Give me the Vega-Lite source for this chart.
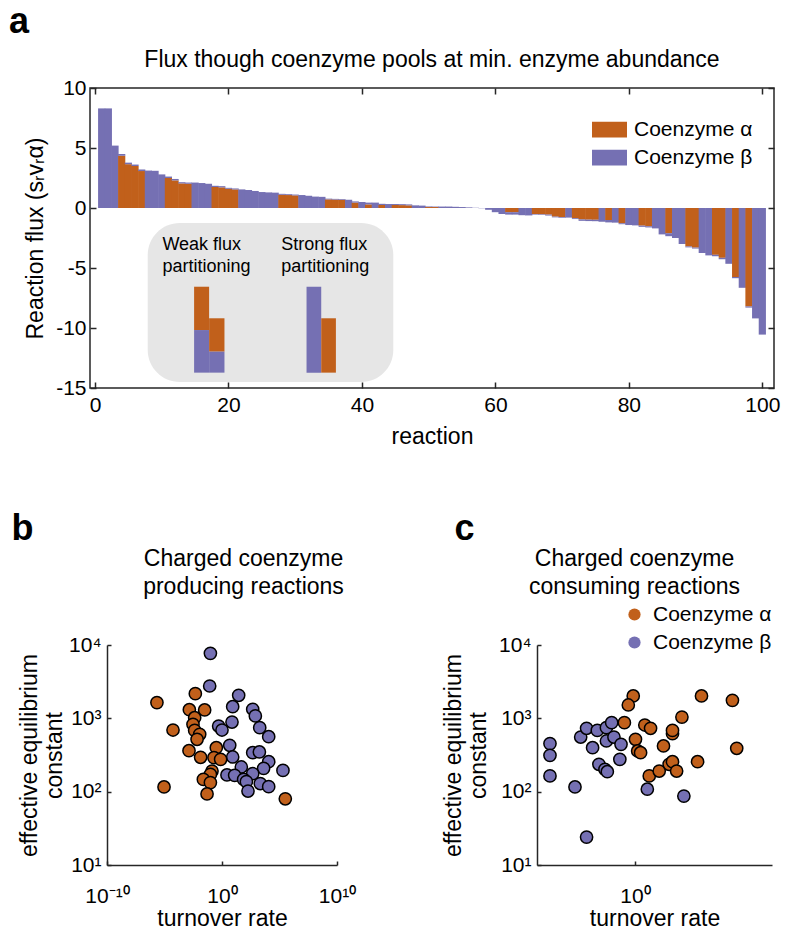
{
  "$schema": "https://vega.github.io/schema/vega-lite/v6.json",
  "padding": {"left": 8, "top": 4, "right": 0, "bottom": 0},
  "config": {
    "font": "Liberation Sans",
    "view": {"stroke": null},
    "axis": {"labelFont": "Liberation Sans", "titleFont": "Liberation Sans", "labelColor": "#000", "titleColor": "#000", "domainColor": "#262626", "tickColor": "#262626", "labelFontSize": 21, "titleFontSize": 23, "titleFontWeight": "normal", "grid": false, "domainWidth": 1.5, "tickWidth": 1.5, "labelFlush": false},
    "legend": {"labelFont": "Liberation Sans", "labelFontSize": 21, "labelColor": "#000"},
    "title": {"font": "Liberation Sans", "color": "#000", "fontWeight": "normal"}
  },
  "datasets": {
    "bars": [
      {"reaction":1,"coenzyme":"Coenzyme β","flux":8.3},
      {"reaction":2,"coenzyme":"Coenzyme β","flux":8.3},
      {"reaction":3,"coenzyme":"Coenzyme β","flux":5.2},
      {"reaction":4,"coenzyme":"Coenzyme α","flux":4.35},{"reaction":4,"coenzyme":"Coenzyme β","flux":0.15},
      {"reaction":5,"coenzyme":"Coenzyme α","flux":3.65},{"reaction":5,"coenzyme":"Coenzyme β","flux":0.13},
      {"reaction":6,"coenzyme":"Coenzyme α","flux":3.5},{"reaction":6,"coenzyme":"Coenzyme β","flux":0.12},
      {"reaction":7,"coenzyme":"Coenzyme α","flux":3.08},{"reaction":7,"coenzyme":"Coenzyme β","flux":0.13},
      {"reaction":8,"coenzyme":"Coenzyme β","flux":3.12},
      {"reaction":9,"coenzyme":"Coenzyme β","flux":3.1},
      {"reaction":10,"coenzyme":"Coenzyme β","flux":2.8},
      {"reaction":11,"coenzyme":"Coenzyme α","flux":2.5},{"reaction":11,"coenzyme":"Coenzyme β","flux":0.12},
      {"reaction":12,"coenzyme":"Coenzyme α","flux":2.3},{"reaction":12,"coenzyme":"Coenzyme β","flux":0.12},
      {"reaction":13,"coenzyme":"Coenzyme α","flux":2.05},{"reaction":13,"coenzyme":"Coenzyme β","flux":0.1},
      {"reaction":14,"coenzyme":"Coenzyme α","flux":2.02},{"reaction":14,"coenzyme":"Coenzyme β","flux":0.1},
      {"reaction":15,"coenzyme":"Coenzyme β","flux":2.12},
      {"reaction":16,"coenzyme":"Coenzyme β","flux":2.08},
      {"reaction":17,"coenzyme":"Coenzyme β","flux":2.02},
      {"reaction":18,"coenzyme":"Coenzyme α","flux":1.75},{"reaction":18,"coenzyme":"Coenzyme β","flux":0.1},
      {"reaction":19,"coenzyme":"Coenzyme α","flux":1.72},{"reaction":19,"coenzyme":"Coenzyme β","flux":0.1},
      {"reaction":20,"coenzyme":"Coenzyme α","flux":1.6},{"reaction":20,"coenzyme":"Coenzyme β","flux":0.08},
      {"reaction":21,"coenzyme":"Coenzyme α","flux":1.55},{"reaction":21,"coenzyme":"Coenzyme β","flux":0.08},
      {"reaction":22,"coenzyme":"Coenzyme β","flux":1.55},
      {"reaction":23,"coenzyme":"Coenzyme β","flux":1.5},
      {"reaction":24,"coenzyme":"Coenzyme β","flux":1.42},
      {"reaction":25,"coenzyme":"Coenzyme β","flux":1.33},
      {"reaction":26,"coenzyme":"Coenzyme β","flux":1.3},
      {"reaction":27,"coenzyme":"Coenzyme β","flux":1.28},
      {"reaction":28,"coenzyme":"Coenzyme α","flux":1.1},{"reaction":28,"coenzyme":"Coenzyme β","flux":0.08},
      {"reaction":29,"coenzyme":"Coenzyme α","flux":1.08},{"reaction":29,"coenzyme":"Coenzyme β","flux":0.07},
      {"reaction":30,"coenzyme":"Coenzyme α","flux":1.05},{"reaction":30,"coenzyme":"Coenzyme β","flux":0.07},
      {"reaction":31,"coenzyme":"Coenzyme β","flux":1.08},
      {"reaction":32,"coenzyme":"Coenzyme β","flux":1.02},
      {"reaction":33,"coenzyme":"Coenzyme β","flux":0.95},
      {"reaction":34,"coenzyme":"Coenzyme β","flux":0.93},
      {"reaction":35,"coenzyme":"Coenzyme α","flux":0.72},{"reaction":35,"coenzyme":"Coenzyme β","flux":0.06},
      {"reaction":36,"coenzyme":"Coenzyme α","flux":0.7},{"reaction":36,"coenzyme":"Coenzyme β","flux":0.06},
      {"reaction":37,"coenzyme":"Coenzyme α","flux":0.68},{"reaction":37,"coenzyme":"Coenzyme β","flux":0.06},
      {"reaction":38,"coenzyme":"Coenzyme β","flux":0.68},
      {"reaction":39,"coenzyme":"Coenzyme α","flux":0.45},{"reaction":39,"coenzyme":"Coenzyme β","flux":0.1},
      {"reaction":40,"coenzyme":"Coenzyme β","flux":0.5},
      {"reaction":41,"coenzyme":"Coenzyme α","flux":0.3},{"reaction":41,"coenzyme":"Coenzyme β","flux":0.15},
      {"reaction":42,"coenzyme":"Coenzyme β","flux":0.45},
      {"reaction":43,"coenzyme":"Coenzyme α","flux":0.25},{"reaction":43,"coenzyme":"Coenzyme β","flux":0.1},
      {"reaction":44,"coenzyme":"Coenzyme β","flux":0.33},
      {"reaction":45,"coenzyme":"Coenzyme α","flux":0.25},{"reaction":45,"coenzyme":"Coenzyme β","flux":0.08},
      {"reaction":46,"coenzyme":"Coenzyme α","flux":0.24},{"reaction":46,"coenzyme":"Coenzyme β","flux":0.08},
      {"reaction":47,"coenzyme":"Coenzyme α","flux":0.22},{"reaction":47,"coenzyme":"Coenzyme β","flux":0.08},
      {"reaction":48,"coenzyme":"Coenzyme β","flux":0.22},
      {"reaction":49,"coenzyme":"Coenzyme β","flux":0.2},
      {"reaction":50,"coenzyme":"Coenzyme α","flux":0.08},{"reaction":50,"coenzyme":"Coenzyme β","flux":0.05},
      {"reaction":51,"coenzyme":"Coenzyme α","flux":0.08},{"reaction":51,"coenzyme":"Coenzyme β","flux":0.04},
      {"reaction":52,"coenzyme":"Coenzyme β","flux":0.12},
      {"reaction":53,"coenzyme":"Coenzyme β","flux":0.12},
      {"reaction":54,"coenzyme":"Coenzyme β","flux":0.1},
      {"reaction":55,"coenzyme":"Coenzyme β","flux":0.08},
      {"reaction":56,"coenzyme":"Coenzyme β","flux":0.05},
      {"reaction":57,"coenzyme":"Coenzyme β","flux":0.02},
      {"reaction":58,"coenzyme":"Coenzyme β","flux":-0.02},
      {"reaction":59,"coenzyme":"Coenzyme β","flux":-0.15},
      {"reaction":60,"coenzyme":"Coenzyme β","flux":-0.35},
      {"reaction":61,"coenzyme":"Coenzyme β","flux":-0.5},
      {"reaction":62,"coenzyme":"Coenzyme α","flux":-0.35},{"reaction":62,"coenzyme":"Coenzyme β","flux":-0.2},
      {"reaction":63,"coenzyme":"Coenzyme α","flux":-0.35},{"reaction":63,"coenzyme":"Coenzyme β","flux":-0.2},
      {"reaction":64,"coenzyme":"Coenzyme β","flux":-0.6},
      {"reaction":65,"coenzyme":"Coenzyme β","flux":-0.62},
      {"reaction":66,"coenzyme":"Coenzyme α","flux":-0.5},{"reaction":66,"coenzyme":"Coenzyme β","flux":-0.05},
      {"reaction":67,"coenzyme":"Coenzyme α","flux":-0.52},{"reaction":67,"coenzyme":"Coenzyme β","flux":-0.05},
      {"reaction":68,"coenzyme":"Coenzyme α","flux":-0.55},{"reaction":68,"coenzyme":"Coenzyme β","flux":-0.08},
      {"reaction":69,"coenzyme":"Coenzyme α","flux":-0.72},{"reaction":69,"coenzyme":"Coenzyme β","flux":-0.06},
      {"reaction":70,"coenzyme":"Coenzyme α","flux":-0.75},{"reaction":70,"coenzyme":"Coenzyme β","flux":-0.06},
      {"reaction":71,"coenzyme":"Coenzyme β","flux":-0.8},
      {"reaction":72,"coenzyme":"Coenzyme α","flux":-0.85},{"reaction":72,"coenzyme":"Coenzyme β","flux":-0.07},
      {"reaction":73,"coenzyme":"Coenzyme α","flux":-0.95},{"reaction":73,"coenzyme":"Coenzyme β","flux":-0.12},
      {"reaction":74,"coenzyme":"Coenzyme α","flux":-0.97},{"reaction":74,"coenzyme":"Coenzyme β","flux":-0.12},
      {"reaction":75,"coenzyme":"Coenzyme α","flux":-0.98},{"reaction":75,"coenzyme":"Coenzyme β","flux":-0.12},
      {"reaction":76,"coenzyme":"Coenzyme β","flux":-1.15},
      {"reaction":77,"coenzyme":"Coenzyme α","flux":-1.0},{"reaction":77,"coenzyme":"Coenzyme β","flux":-0.2},
      {"reaction":78,"coenzyme":"Coenzyme β","flux":-1.22},
      {"reaction":79,"coenzyme":"Coenzyme α","flux":-1.27},{"reaction":79,"coenzyme":"Coenzyme β","flux":-0.08},
      {"reaction":80,"coenzyme":"Coenzyme β","flux":-1.42},
      {"reaction":81,"coenzyme":"Coenzyme β","flux":-1.45},
      {"reaction":82,"coenzyme":"Coenzyme α","flux":-1.47},{"reaction":82,"coenzyme":"Coenzyme β","flux":-0.1},
      {"reaction":83,"coenzyme":"Coenzyme α","flux":-1.52},{"reaction":83,"coenzyme":"Coenzyme β","flux":-0.1},
      {"reaction":84,"coenzyme":"Coenzyme β","flux":-1.7},
      {"reaction":85,"coenzyme":"Coenzyme β","flux":-2.2},
      {"reaction":86,"coenzyme":"Coenzyme α","flux":-2.1},{"reaction":86,"coenzyme":"Coenzyme β","flux":-0.25},
      {"reaction":87,"coenzyme":"Coenzyme β","flux":-2.5},
      {"reaction":88,"coenzyme":"Coenzyme β","flux":-3.0},
      {"reaction":89,"coenzyme":"Coenzyme α","flux":-3.2},{"reaction":89,"coenzyme":"Coenzyme β","flux":-0.08},
      {"reaction":90,"coenzyme":"Coenzyme α","flux":-3.3},{"reaction":90,"coenzyme":"Coenzyme β","flux":-0.08},
      {"reaction":91,"coenzyme":"Coenzyme β","flux":-3.75},
      {"reaction":92,"coenzyme":"Coenzyme β","flux":-3.95},
      {"reaction":93,"coenzyme":"Coenzyme α","flux":-3.9},{"reaction":93,"coenzyme":"Coenzyme β","flux":-0.12},
      {"reaction":94,"coenzyme":"Coenzyme α","flux":-4.15},{"reaction":94,"coenzyme":"Coenzyme β","flux":-0.12},
      {"reaction":95,"coenzyme":"Coenzyme β","flux":-4.65},
      {"reaction":96,"coenzyme":"Coenzyme α","flux":-5.75},{"reaction":96,"coenzyme":"Coenzyme β","flux":-0.1},
      {"reaction":97,"coenzyme":"Coenzyme β","flux":-6.65},
      {"reaction":98,"coenzyme":"Coenzyme α","flux":-8.2},{"reaction":98,"coenzyme":"Coenzyme β","flux":-0.1},
      {"reaction":99,"coenzyme":"Coenzyme β","flux":-9.2},
      {"reaction":100,"coenzyme":"Coenzyme β","flux":-10.55}
    ],
    "inset": [{"x0": 7.9, "x1": 44.7, "y0": -1.25, "y1": -14.5}],
    "minibars": [
      {"x0":14.85,"x1":17.1,"y0":-6.56,"y1":-10.17,"coenzyme":"Coenzyme α"},
      {"x0":14.85,"x1":17.1,"y0":-10.17,"y1":-13.72,"coenzyme":"Coenzyme β"},
      {"x0":17.1,"x1":19.4,"y0":-9.19,"y1":-11.97,"coenzyme":"Coenzyme α"},
      {"x0":17.1,"x1":19.4,"y0":-11.97,"y1":-13.72,"coenzyme":"Coenzyme β"},
      {"x0":31.7,"x1":33.9,"y0":-6.56,"y1":-13.72,"coenzyme":"Coenzyme β"},
      {"x0":33.9,"x1":36.1,"y0":-9.19,"y1":-13.72,"coenzyme":"Coenzyme α"}
    ],
    "insettext": [
      {"tx": 10.1, "ty": -3.5, "label": "Weak flux\npartitioning"},
      {"tx": 27.9, "ty": -3.5, "label": "Strong flux\npartitioning"}
    ],
    "prod": [
      {"coenzyme":"Coenzyme β","rate":0.098,"K":7690},
      {"coenzyme":"Coenzyme β","rate":0.085,"K":2760},
      {"coenzyme":"Coenzyme β","rate":28.2,"K":2060},
      {"coenzyme":"Coenzyme β","rate":8.5,"K":1440},
      {"coenzyme":"Coenzyme β","rate":468,"K":1330},
      {"coenzyme":"Coenzyme β","rate":794,"K":1080},
      {"coenzyme":"Coenzyme β","rate":7.4,"K":890},
      {"coenzyme":"Coenzyme β","rate":0.51,"K":785},
      {"coenzyme":"Coenzyme β","rate":1.0,"K":693},
      {"coenzyme":"Coenzyme β","rate":1905,"K":746},
      {"coenzyme":"Coenzyme β","rate":11500,"K":562},
      {"coenzyme":"Coenzyme β","rate":4.7,"K":429},
      {"coenzyme":"Coenzyme β","rate":8.5,"K":297},
      {"coenzyme":"Coenzyme β","rate":468,"K":340},
      {"coenzyme":"Coenzyme β","rate":1780,"K":348},
      {"coenzyme":"Coenzyme β","rate":48,"K":217},
      {"coenzyme":"Coenzyme β","rate":11500,"K":256},
      {"coenzyme":"Coenzyme β","rate":4170,"K":208},
      {"coenzyme":"Coenzyme β","rate":200000,"K":195},
      {"coenzyme":"Coenzyme β","rate":2.7,"K":169},
      {"coenzyme":"Coenzyme β","rate":12.6,"K":167},
      {"coenzyme":"Coenzyme β","rate":468,"K":176},
      {"coenzyme":"Coenzyme β","rate":76,"K":147},
      {"coenzyme":"Coenzyme β","rate":132,"K":137},
      {"coenzyme":"Coenzyme β","rate":2140,"K":129},
      {"coenzyme":"Coenzyme β","rate":11500,"K":117},
      {"coenzyme":"Coenzyme β","rate":182,"K":102},
      {"coenzyme":"Coenzyme α","rate":0.0000022,"K":1640},
      {"coenzyme":"Coenzyme α","rate":0.000055,"K":693},
      {"coenzyme":"Coenzyme α","rate":0.0048,"K":2170},
      {"coenzyme":"Coenzyme α","rate":0.00145,"K":1310},
      {"coenzyme":"Coenzyme α","rate":0.031,"K":1300},
      {"coenzyme":"Coenzyme α","rate":0.0042,"K":1020},
      {"coenzyme":"Coenzyme α","rate":0.003,"K":828},
      {"coenzyme":"Coenzyme α","rate":0.0042,"K":685},
      {"coenzyme":"Coenzyme α","rate":0.0115,"K":605},
      {"coenzyme":"Coenzyme α","rate":0.0068,"K":518},
      {"coenzyme":"Coenzyme α","rate":0.00135,"K":362},
      {"coenzyme":"Coenzyme α","rate":0.0138,"K":294},
      {"coenzyme":"Coenzyme α","rate":0.32,"K":398},
      {"coenzyme":"Coenzyme α","rate":0.2,"K":291},
      {"coenzyme":"Coenzyme α","rate":0.76,"K":276},
      {"coenzyme":"Coenzyme α","rate":0.135,"K":191},
      {"coenzyme":"Coenzyme α","rate":0.098,"K":172},
      {"coenzyme":"Coenzyme α","rate":0.024,"K":147},
      {"coenzyme":"Coenzyme α","rate":0.098,"K":133},
      {"coenzyme":"Coenzyme α","rate":0.0000091,"K":116},
      {"coenzyme":"Coenzyme α","rate":0.05,"K":93},
      {"coenzyme":"Coenzyme α","rate":320000,"K":80}
    ],
    "cons": [
      {"coenzyme":"Coenzyme β","rate":0.000046,"K":452},
      {"coenzyme":"Coenzyme β","rate":0.000046,"K":313},
      {"coenzyme":"Coenzyme β","rate":0.000046,"K":164},
      {"coenzyme":"Coenzyme β","rate":0.00087,"K":116},
      {"coenzyme":"Coenzyme β","rate":0.0034,"K":24},
      {"coenzyme":"Coenzyme β","rate":0.0017,"K":556},
      {"coenzyme":"Coenzyme β","rate":0.0034,"K":731},
      {"coenzyme":"Coenzyme β","rate":0.012,"K":685},
      {"coenzyme":"Coenzyme β","rate":0.035,"K":746},
      {"coenzyme":"Coenzyme β","rate":0.065,"K":873},
      {"coenzyme":"Coenzyme β","rate":0.035,"K":491},
      {"coenzyme":"Coenzyme β","rate":0.085,"K":556},
      {"coenzyme":"Coenzyme β","rate":0.195,"K":442},
      {"coenzyme":"Coenzyme β","rate":0.0069,"K":398},
      {"coenzyme":"Coenzyme β","rate":0.17,"K":276},
      {"coenzyme":"Coenzyme β","rate":0.0145,"K":236},
      {"coenzyme":"Coenzyme β","rate":0.0295,"K":202},
      {"coenzyme":"Coenzyme β","rate":0.039,"K":187},
      {"coenzyme":"Coenzyme β","rate":4.3,"K":108},
      {"coenzyme":"Coenzyme β","rate":316,"K":87},
      {"coenzyme":"Coenzyme α","rate":0.82,"K":2020},
      {"coenzyme":"Coenzyme α","rate":0.46,"K":1520},
      {"coenzyme":"Coenzyme α","rate":0.29,"K":873},
      {"coenzyme":"Coenzyme α","rate":3.2,"K":811},
      {"coenzyme":"Coenzyme α","rate":6.3,"K":731},
      {"coenzyme":"Coenzyme α","rate":1.07,"K":518},
      {"coenzyme":"Coenzyme α","rate":1.38,"K":359},
      {"coenzyme":"Coenzyme α","rate":1.95,"K":340},
      {"coenzyme":"Coenzyme α","rate":5.4,"K":164},
      {"coenzyme":"Coenzyme α","rate":17.4,"K":191},
      {"coenzyme":"Coenzyme α","rate":28.8,"K":420},
      {"coenzyme":"Coenzyme α","rate":83,"K":618},
      {"coenzyme":"Coenzyme α","rate":83,"K":685},
      {"coenzyme":"Coenzyme α","rate":251,"K":1040},
      {"coenzyme":"Coenzyme α","rate":56,"K":236},
      {"coenzyme":"Coenzyme α","rate":83,"K":256},
      {"coenzyme":"Coenzyme α","rate":135,"K":191},
      {"coenzyme":"Coenzyme α","rate":1585,"K":256},
      {"coenzyme":"Coenzyme α","rate":2510,"K":2020},
      {"coenzyme":"Coenzyme α","rate":95500,"K":1760},
      {"coenzyme":"Coenzyme α","rate":158000,"K":390}
    ]
  },
  "resolve": {"scale": {"color": "independent"}, "legend": {"color": "independent"}},
  "columns": 1,
  "align": "none",
  "spacing": 62,
  "concat": [
    {
      "title": {"text": "a", "anchor": "start", "frame": "bounds", "fontSize": 36, "fontWeight": "bold", "dx": -15, "offset": 7},
      "vconcat": [
        {
          "width": 684,
          "height": 300,
          "view": {"stroke": "#262626", "strokeWidth": 1.5},
          "title": {"text": "Flux though coenzyme pools at min. enzyme abundance", "fontSize": 23, "offset": 5, "anchor": "middle"},
          "resolve": {"axis": {"x": "independent", "y": "independent"}},
          "layer": [
            {
              "data": {"name": "inset"},
              "mark": {"type": "rect", "fill": "#e6e6e6", "cornerRadius": 32},
              "encoding": {
                "x": {"field": "x0", "type": "quantitative", "scale": {"domain": [0, 101], "nice": false}, "axis": null},
                "x2": {"field": "x1"},
                "y": {"field": "y0", "type": "quantitative", "scale": {"domain": [-15, 10], "nice": false}, "axis": null},
                "y2": {"field": "y1"}
              }
            },
            {
              "data": {"name": "bars"},
              "mark": {"type": "bar", "width": 7.2},
              "encoding": {
                "x": {"field": "reaction", "type": "quantitative", "scale": {"domain": [0, 101], "nice": false},
                  "axis": {"values": [0, 20, 40, 60, 80, 100], "title": "reaction", "tickSize": -6, "domain": false, "labelPadding": 12, "titlePadding": 10}},
                "y": {"field": "flux", "type": "quantitative", "stack": "zero", "scale": {"domain": [-15, 10], "nice": false},
                  "axis": {"values": [-15, -10, -5, 0, 5, 10], "title": "Reaction flux  (sᵣvᵣα)", "tickSize": -6, "domain": false, "labelPadding": 10, "titlePadding": 8, "labelExpr": "replace(datum.label, '−', '-')"}},
                "color": {"field": "coenzyme", "type": "nominal",
                  "scale": {"domain": ["Coenzyme α", "Coenzyme β"], "range": ["#c1601b", "#7570b3"]},
                  "legend": {"orient": "none", "legendX": 502, "legendY": 24, "title": null, "symbolType": "M-1,-0.45H1V0.45H-1Z", "symbolSize": 1225, "symbolStrokeWidth": 0, "symbolOpacity": 1, "rowPadding": -10, "labelOffset": 7}},
                "order": {"field": "coenzyme", "sort": "ascending"}
              }
            },
            {
              "data": {"name": "minibars"},
              "mark": {"type": "rect"},
              "encoding": {
                "x": {"field": "x0", "type": "quantitative", "scale": {"domain": [0, 101], "nice": false}, "axis": null},
                "x2": {"field": "x1"},
                "y": {"field": "y0", "type": "quantitative", "scale": {"domain": [-15, 10], "nice": false}, "axis": null},
                "y2": {"field": "y1"},
                "color": {"field": "coenzyme", "type": "nominal", "scale": {"domain": ["Coenzyme α", "Coenzyme β"], "range": ["#c1601b", "#7570b3"]}, "legend": null}
              }
            },
            {
              "mark": {"type": "rule", "color": "#262626", "strokeWidth": 2},
              "encoding": {
                "y": {"datum": 0, "type": "quantitative", "scale": {"domain": [-15, 10], "nice": false},
                  "axis": {"orient": "right", "values": [-15, -10, -5, 0, 5, 10], "labels": false, "title": null, "tickSize": -6, "domain": false}}
              }
            },
            {
              "data": {"name": "insettext"},
              "mark": {"type": "text", "align": "left", "baseline": "alphabetic", "fontSize": 18, "lineBreak": "\n", "lineHeight": 22, "color": "#000"},
              "encoding": {
                "x": {"field": "tx", "type": "quantitative", "scale": {"domain": [0, 101], "nice": false},
                  "axis": {"orient": "top", "values": [0, 20, 40, 60, 80, 100], "labels": false, "title": null, "tickSize": -6, "domain": false}},
                "y": {"field": "ty", "type": "quantitative", "scale": {"domain": [-15, 10], "nice": false}, "axis": null},
                "text": {"field": "label"}
              }
            }
          ]
        }
      ]
    },
    {
      "spacing": 86,
      "resolve": {"scale": {"color": "independent"}, "legend": {"color": "independent"}},
      "hconcat": [
        {
          "title": {"text": "b", "anchor": "start", "frame": "bounds", "fontSize": 36, "fontWeight": "bold", "dx": -7, "offset": 0},
          "vconcat": [
            {
              "width": 247,
              "height": 220,
              "title": {"text": ["Charged coenzyme", "producing reactions"], "fontSize": 23, "lineHeight": 28, "offset": 35, "anchor": "middle", "dx": 30},
              "data": {"name": "prod"},
              "mark": {"type": "point", "shape": "circle", "filled": true, "size": 150, "stroke": "#000", "strokeWidth": 1.5, "opacity": 1},
              "encoding": {
                "x": {"field": "rate", "type": "quantitative", "scale": {"type": "log", "domain": [1e-10, 1e10], "nice": false, "range": [17, 247]},
                  "axis": {"values": [1e-10, 1, 1e10], "title": "turnover rate", "tickSize": -4, "labelPadding": 24, "titlePadding": 1, "labelExpr": "datum.value < 1e-5 ? '10⁻¹⁰' : datum.value > 1e5 ? '10¹⁰' : '10⁰'"}},
                "y": {"field": "K", "type": "quantitative", "scale": {"type": "log", "domain": [10, 10000], "nice": false},
                  "axis": {"offset": -17, "values": [10, 100, 1000, 10000], "title": ["effective equilibrium", "constant"], "titleLineHeight": 25, "titlePadding": 2, "tickSize": -4, "labelPadding": 10, "labelExpr": "datum.value == 10 ? '10¹' : datum.value == 100 ? '10²' : datum.value == 1000 ? '10³' : '10⁴'"}},
                "color": {"field": "coenzyme", "type": "nominal", "scale": {"domain": ["Coenzyme α", "Coenzyme β"], "range": ["#c1601b", "#7570b3"]}, "legend": null}
              }
            }
          ]
        },
        {
          "title": {"text": "c", "anchor": "start", "frame": "bounds", "fontSize": 36, "fontWeight": "bold", "dx": 12, "offset": 0},
          "vconcat": [
            {
              "width": 235,
              "height": 220,
              "title": {"text": ["Charged coenzyme", "consuming reactions"], "fontSize": 23, "lineHeight": 28, "offset": 35, "anchor": "middle", "dx": -20},
              "data": {"name": "cons"},
              "mark": {"type": "point", "shape": "circle", "filled": true, "size": 150, "stroke": "#000", "strokeWidth": 1.5, "opacity": 1},
              "encoding": {
                "x": {"field": "rate", "type": "quantitative", "scale": {"type": "log", "domain": [1e-5, 1e7], "nice": false},
                  "axis": {"values": [1], "title": "turnover rate", "tickSize": -4, "labelPadding": 24, "titlePadding": 1, "labelExpr": "'10⁰'"}},
                "y": {"field": "K", "type": "quantitative", "scale": {"type": "log", "domain": [10, 10000], "nice": false},
                  "axis": {"values": [10, 100, 1000, 10000], "title": ["effective equilibrium", "constant"], "titleLineHeight": 25, "titlePadding": 8, "tickSize": -4, "labelPadding": 10, "labelExpr": "datum.value == 10 ? '10¹' : datum.value == 100 ? '10²' : datum.value == 1000 ? '10³' : '10⁴'"}},
                "color": {"field": "coenzyme", "type": "nominal", "scale": {"domain": ["Coenzyme α", "Coenzyme β"], "range": ["#c1601b", "#7570b3"]},
                  "legend": {"orient": "none", "legendX": 87, "legendY": -41, "title": null, "symbolType": "circle", "symbolSize": 150, "symbolStrokeWidth": 0, "symbolOpacity": 1, "rowPadding": 6, "labelOffset": 8}}
              }
            }
          ]
        }
      ]
    }
  ]
}
